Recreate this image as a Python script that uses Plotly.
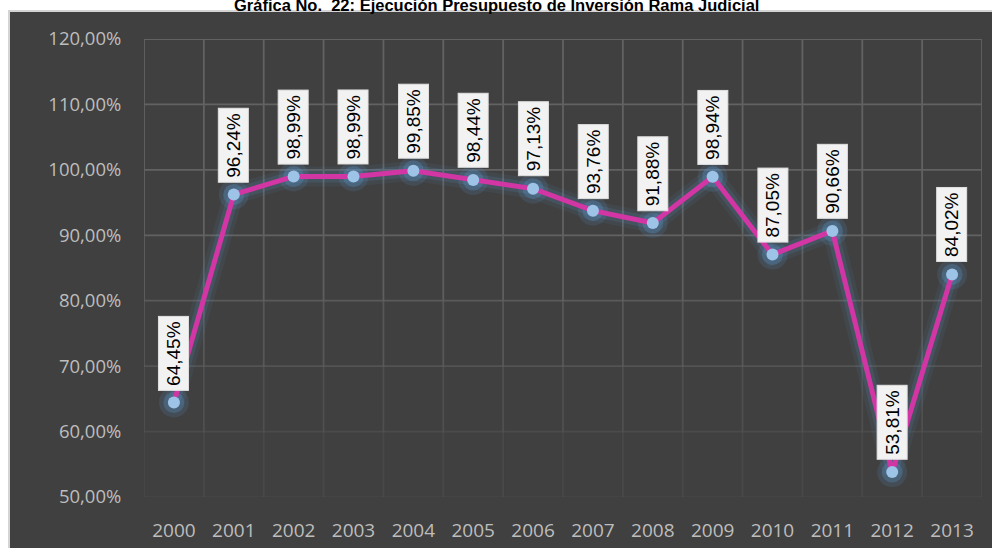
import plotly.graph_objects as go

# ---- data ----
years = [2000, 2001, 2002, 2003, 2004, 2005, 2006, 2007, 2008, 2009, 2010, 2011, 2012, 2013]
execution_pct = [64.45, 96.24, 98.99, 98.99, 99.85, 98.44, 97.13, 93.76, 91.88, 98.94, 87.05, 90.66, 53.81, 84.02]
y_tick_values = [50, 60, 70, 80, 90, 100, 110, 120]
y_tick_labels = ["50,00%", "60,00%", "70,00%", "80,00%", "90,00%", "100,00%", "110,00%", "120,00%"]
x_tick_labels = [str(y) for y in years]
title_text = "Gráfica No.\u00a0 22: Ejecución Presupuesto de Inversión Rama Judicial"

W, H = 992, 548
L, R, T, B = 144, 10, 39, 51
pw, ph = W - L - R, H - T - B


def px_x(px):
    return (px - L) / pw


def px_y(py):
    return (H - B - py) / ph


def grid_alpha(v):
    # gridlines fade towards the bottom of the plot
    if v >= 90:
        return 1.0
    return max(0.12, 0.12 + (v - 50) / 40 * 0.88)


shapes = []
# dark chart area + light border
shapes.append(dict(type="rect", xref="paper", yref="paper",
                   x0=px_x(9), x1=px_x(994), y0=px_y(550), y1=px_y(11),
                   fillcolor="#404040", line=dict(color="#D4D4D4", width=2), layer="below"))

# horizontal gridlines
for v in y_tick_values:
    a = grid_alpha(v)
    shapes.append(dict(type="line", xref="x", yref="y", x0=years[0] - 0.5, x1=years[-1] + 0.5,
                       y0=v, y1=v, line=dict(color=f"rgba(98,98,98,{a:.2f})", width=1.8), layer="below"))
# vertical gridlines at category boundaries, fading downward
bounds = [y - 0.5 for y in years] + [years[-1] + 0.5]
for xb in bounds:
    for lo, hi in zip(y_tick_values[:-1], y_tick_values[1:]):
        a = grid_alpha((lo + hi) / 2)
        shapes.append(dict(type="line", xref="x", yref="y", x0=xb, x1=xb, y0=lo, y1=hi,
                           line=dict(color=f"rgba(98,98,98,{a:.2f})", width=1.8), layer="below"))

fig = go.Figure()

# glow under the line
fig.add_trace(go.Scatter(x=years, y=execution_pct, mode="lines",
                         line=dict(color="rgba(91,155,213,0.08)", width=20), hoverinfo="skip"))
fig.add_trace(go.Scatter(x=years, y=execution_pct, mode="lines",
                         line=dict(color="rgba(91,155,213,0.14)", width=12), hoverinfo="skip"))
# glow around markers
fig.add_trace(go.Scatter(x=years, y=execution_pct, mode="markers",
                         marker=dict(color="rgba(91,155,213,0.14)", size=30), hoverinfo="skip"))
fig.add_trace(go.Scatter(x=years, y=execution_pct, mode="markers",
                         marker=dict(color="rgba(91,155,213,0.28)", size=21), hoverinfo="skip"))
# main line
fig.add_trace(go.Scatter(x=years, y=execution_pct, mode="lines",
                         line=dict(color="#D235A4", width=5)))
# markers
fig.add_trace(go.Scatter(x=years, y=execution_pct, mode="markers",
                         marker=dict(color="#9DC3E6", size=12, line=dict(width=0))))

annotations = []
for x, v in zip(years, execution_pct):
    annotations.append(dict(
        x=x, y=v, xref="x", yref="y", text=f"{v:.2f}%".replace(".", ","),
        showarrow=False, textangle=-90, xanchor="center", yanchor="bottom", yshift=12,
        bgcolor="#F2F2F2", bordercolor="#E0E0E0", borderwidth=1, borderpad=4,
        font=dict(family="Liberation Sans, Arial, sans-serif", size=19, color="#000000")))

annotations.append(dict(
    x=px_x(496), y=px_y(16), xref="paper", yref="paper", text=f"<b>{title_text}</b>",
    showarrow=False, xanchor="center", yanchor="bottom",
    font=dict(family="Liberation Sans Narrow, Arial Narrow, Liberation Sans, sans-serif", size=16.5, color="#000000")))

fig.update_layout(
    width=W, height=H,
    margin=dict(l=L, r=R, t=T, b=B, autoexpand=False),
    paper_bgcolor="#FFFFFF",
    plot_bgcolor="rgba(0,0,0,0)",
    showlegend=False,
    shapes=shapes,
    annotations=annotations,
    xaxis=dict(range=[years[0] - 0.5, years[-1] + 0.5], tickmode="array", tickvals=years,
               ticktext=x_tick_labels, showgrid=False, zeroline=False, showline=False,
               automargin=False,
               ticks="outside", ticklen=16, tickcolor="rgba(0,0,0,0)",
               tickfont=dict(family="Open Sans, sans-serif", size=19, color="#BDBDBD")),
    yaxis=dict(range=[50, 120], tickmode="array", tickvals=y_tick_values, ticktext=y_tick_labels,
               showgrid=False, zeroline=False, showline=False,
               automargin=False,
               ticks="outside", ticklen=18, tickcolor="rgba(0,0,0,0)",
               tickfont=dict(family="Open Sans, sans-serif", size=18.5, color="#BDBDBD")),
)

fig.write_html("out.html", config={"displayModeBar": False},
               post_script="document.body.style.margin='0px';document.body.style.overflow='hidden';")
